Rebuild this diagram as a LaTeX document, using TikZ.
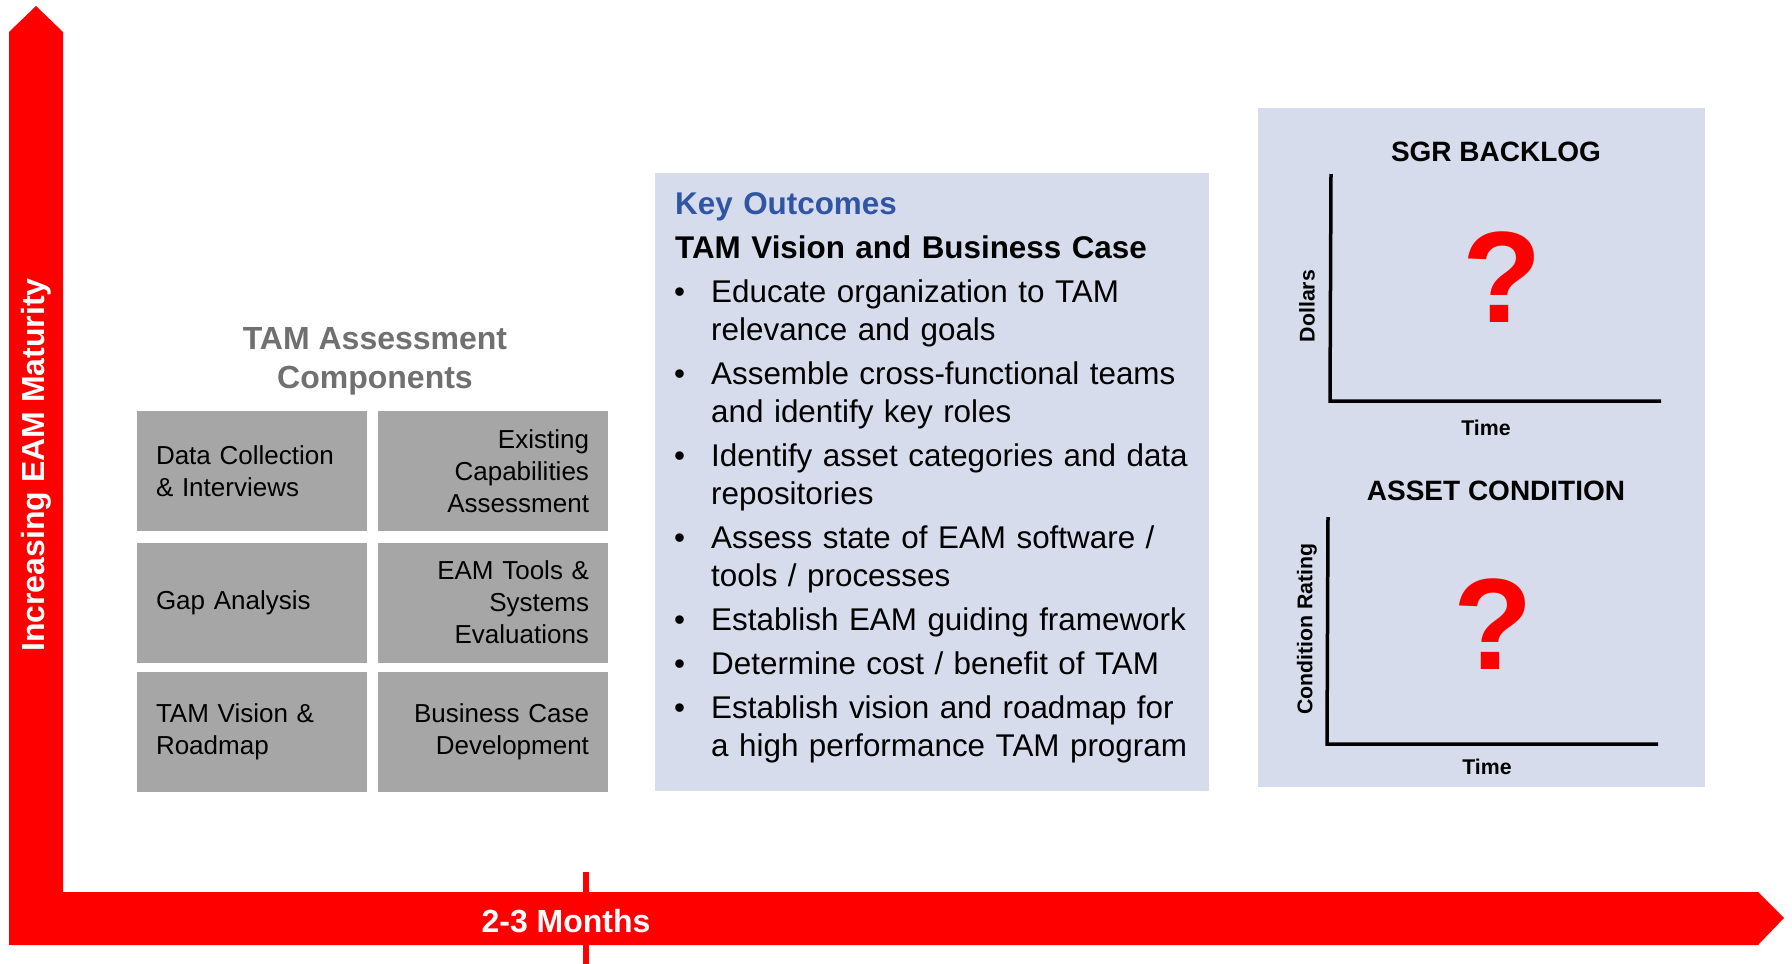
\documentclass[tikz,border=0pt]{standalone}
\usepackage{fontspec}
\setmainfont{Liberation Sans}
\definecolor{eamred}{RGB}{255,0,0}
\definecolor{compgray}{RGB}{166,166,166}
\definecolor{titlegray}{RGB}{112,112,112}
\definecolor{paneblue}{RGB}{214,220,235}
\definecolor{keyblue}{RGB}{47,85,164}
\newcommand{\keyitem}[1]{\par\hangindent=36pt\hangafter=1\noindent\hspace*{-1pt}\makebox[37pt][l]{\textbullet}#1}
\tikzset{
  compbox/.style={fill=compgray, minimum width=230pt, minimum height=120pt, text width=192pt,
    inner xsep=19pt, inner ysep=0pt, font={\fontsize{26}{32}\selectfont}},
  pane/.style={fill=paneblue, inner sep=0pt},
  axislabel/.style={text=white, font={\fontsize{32}{38}\selectfont\bfseries}, inner sep=0pt},
  charttitle/.style={font={\fontsize{28}{32}\selectfont\bfseries}, inner sep=0pt},
  chartaxis/.style={font={\fontsize{21.3}{24}\selectfont\bfseries}, inner sep=0pt},
  qmark/.style={text=eamred, font={\fontsize{130}{130}\selectfont\bfseries}, inner sep=0pt},
  axisline/.style={line width=3.5pt, black},
}
\begin{document}
\begin{tikzpicture}[x=1pt,y=-1pt]
  \useasboundingbox (0,0) rectangle (1792,964);
  % axes arrows
  \fill[eamred] (9,945) -- (9,32) -- (36,6) -- (63,32) -- (63,892) -- (1758,892) -- (1784,918) -- (1758,945) -- cycle;
  \draw[eamred, line width=6pt] (586,872) -- (586,964);
  \node[axislabel, rotate=90] (maturity) at (36,465) {Increasing EAM Maturity};
  \node[axislabel, anchor=base] (months) at (566,932) {2-3 Months};

  % assessment components
  \node[text=titlegray, align=center, inner sep=0pt, font={\fontsize{32}{39}\selectfont\bfseries}] (comptitle) at (375,361.5) {TAM Assessment\\Components};
  \node[compbox, align=left] (datacol) at (252,471) {Data Collection\\\& Interviews};
  \node[compbox, align=right] (existing) at (493,471) {Existing\\Capabilities\\Assessment};
  \node[compbox, align=left] (gap) at (252,602.5) {Gap Analysis};
  \node[compbox, align=right] (tools) at (493,602.5) {EAM Tools \&\\Systems\\Evaluations};
  \node[compbox, align=left] (vision) at (252,732) {TAM Vision \&\\Roadmap};
  \node[compbox, align=right] (bizcase) at (493,732) {Business Case\\Development};

  % key outcomes
  \node[pane, minimum width=554pt, minimum height=618pt] (keypane) at (932,482) {};
  \node[anchor=north west, inner sep=0pt, text width=530pt, align=left,
        font={\fontsize{31.4}{38}\selectfont}] (keylist) at (675,192) {%
    \setlength{\parskip}{6pt}%
    \textcolor{keyblue}{\bfseries Key Outcomes}\par
    {\bfseries TAM Vision and Business Case}%
    \keyitem{Educate organization to TAM\newline relevance and goals}%
    \keyitem{Assemble cross-functional teams\newline and identify key roles}%
    \keyitem{Identify asset categories and data\newline repositories}%
    \keyitem{Assess state of EAM software /\newline tools / processes}%
    \keyitem{Establish EAM guiding framework}%
    \keyitem{Determine cost / benefit of TAM}%
    \keyitem{Establish vision and roadmap for\newline a high performance TAM program}\par};

  % charts
  \node[pane, minimum width=447pt, minimum height=679pt] (chartpane) at (1481.5,447.5) {};
  \node[charttitle] (sgr) at (1496,152) {SGR BACKLOG};
  \coordinate (sgrtop) at (1331,174);
  \coordinate (sgrorg) at (1330,401);
  \coordinate (sgrend) at (1661,401);
  \draw[axisline] (sgrtop) -- (sgrorg) -- (sgrend);
  \node[chartaxis, rotate=90] (dollars) at (1307,306) {Dollars};
  \node[chartaxis] (sgrtime) at (1486,428) {Time};
  \node[qmark] (sgrq) at (1502,277) {?};

  \node[charttitle] (cond) at (1496,491) {ASSET CONDITION};
  \coordinate (condtop) at (1328,517);
  \coordinate (condorg) at (1327,744);
  \coordinate (condend) at (1658,744);
  \draw[axisline] (condtop) -- (condorg) -- (condend);
  \node[chartaxis, rotate=90] (rating) at (1307,629) {Condition Rating};
  \node[chartaxis] (condtime) at (1487,767) {Time};
  \node[qmark] (condq) at (1493,624) {?};
\end{tikzpicture}
\end{document}
